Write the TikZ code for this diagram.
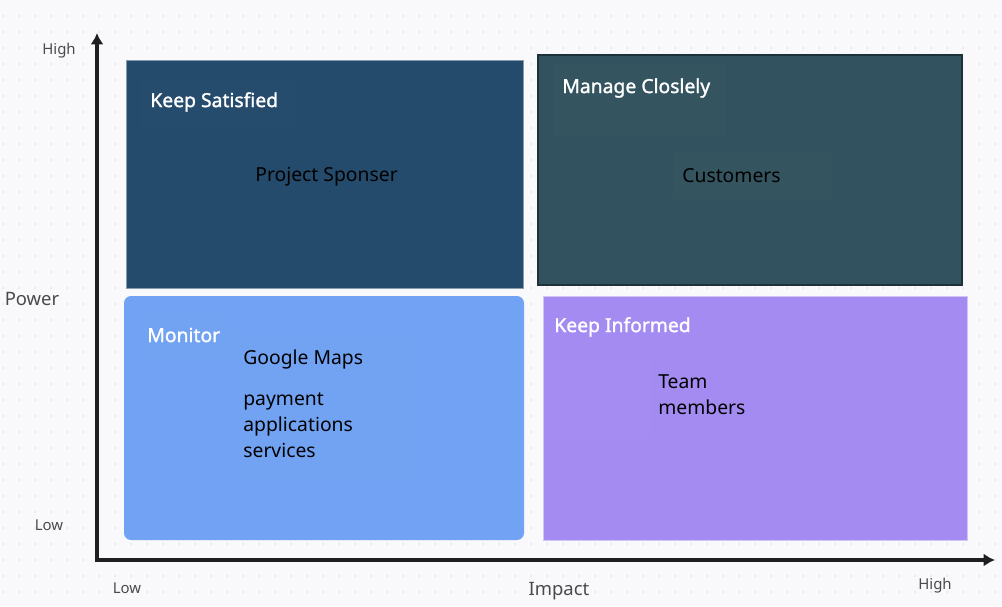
\documentclass[tikz,border=0pt]{standalone}
\usepackage{fontspec}
\setmainfont{Noto Sans}
\newfontfamily\titlefont[FakeBold=1.4]{Noto Sans}
\usepackage{tikz}
\usetikzlibrary{arrows.meta}
\usetikzlibrary{calc}

\definecolor{paper}{HTML}{F9F9FB}
\definecolor{griddot}{HTML}{DCDCE2}
\definecolor{satisfied}{HTML}{244A6C}
\definecolor{manage}{HTML}{32525F}
\definecolor{monitor}{HTML}{71A2F3}
\definecolor{informed}{HTML}{A38BF2}
\definecolor{axisgray}{HTML}{4A4A4A}

\tikzset{
    title/.style={anchor=west, inner sep=0pt, text=white, font=\titlefont\fontsize{11}{13}\selectfont},
    entry/.style={anchor=west, inner sep=0pt, align=left, text=black, font=\fontsize{11}{14.7}\selectfont},
    ticklabel/.style={inner sep=0pt, text=axisgray, font=\fontsize{8.5}{10}\selectfont},
    axislabel/.style={inner sep=0pt, text=axisgray, font=\fontsize{10.5}{12}\selectfont},
    faint/.style={fill=white, fill opacity=0.012},
}

\begin{document}
\begin{tikzpicture}[x=0.02cm, y=-0.02cm]
            \useasboundingbox[fill=paper] (0,0) rectangle (1002,606);

            % dotted canvas
            \foreach \x in {3,19,...,1002} {
                \foreach \y in {16,32,...,606} {
                    \fill[griddot] (\x,\y) circle (0.8);
                }
            }

            \coordinate (O) at (97,560);
            \coordinate (Y) at (97,33);
            \coordinate (X) at (995,560);

            % quadrants
            \fill[satisfied] (126,60) rectangle (523,288);
            \draw[color=satisfied!55!white, line width=0.4pt] (126,60) rectangle (523,288);
            \fill[manage] (538,55) rectangle (962,285);
            \draw[color=manage!60!black, line width=0.8pt] (538,55) rectangle (962,285);
            \fill[monitor, rounded corners=4] (124,296) rectangle (524,540);
            \fill[informed] (543,296) rectangle (967,540);
            \draw[color=informed!50!white, line width=0.5pt] (543,296) rectangle (967,540);

            \fill[faint] (141,78) rectangle (295,130);
            \fill[faint] (553,63) rectangle (726,137);
            \fill[faint] (673,152) rectangle (832,199);
            \fill[faint] (138,310) rectangle (232,357);
            \fill[faint] (233,335) rectangle (412,478);
            \fill[faint] (543,360) rectangle (650,438);

            \node[title] (ks) at (150,102) {Keep Satisfied};
            \node[entry] (ps) at (255,177) {Project Sponser};
            \node[title] (mc) at (562,88) {Manage Closlely};
            \node[entry] (cu) at (682,176) {Customers};
            \node[title] (mo) at (147,335) {Monitor};
            \node[entry] (gm) at (243,359) {Google Maps};
            \node[entry] (pa) at (243,425) {payment\\applications\\services};
            \node[title] (ki) at (554,327) {Keep Informed};
            \node[entry] (tm) at (658,395) {Team\\members};

            % axes
            \draw[line width=2pt, color=black!88, {Latex[length=6.5pt,width=7.5pt]}-{Latex[length=6.5pt,width=7.5pt]}] (Y) -- (O) -- (X);

            \node[ticklabel] (yh) at (59,51) {High};
            \node[axislabel] (yl) at (32,299) {Power};
            \node[ticklabel] (ylo) at (49,525) {Low};
            \node[ticklabel] (xlo) at (127,588) {Low};
            \node[axislabel] (xl) at (559,591) {Impact};
            \node[ticklabel] (xh) at (935,586) {High};
        \end{tikzpicture}
\end{document}
